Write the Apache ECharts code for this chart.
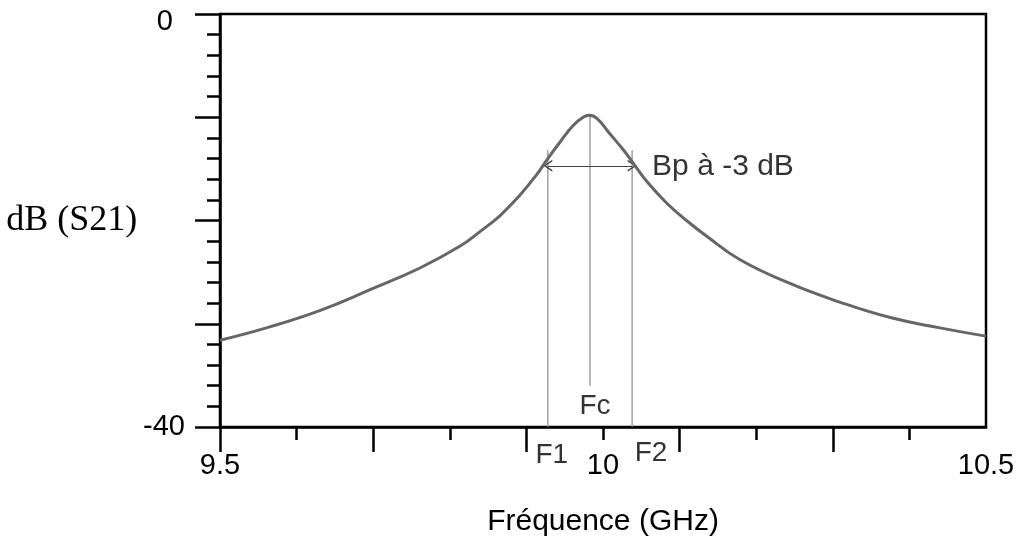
<!DOCTYPE html>
<html>
<head>
<meta charset="utf-8">
<script src="https://cdn.jsdelivr.net/npm/echarts@6/dist/echarts.min.js"></script>
<style>html,body{margin:0;padding:0;background:#fff}#c{width:1030px;height:540px}</style>
</head>
<body>
<div id="c"></div>
<script>
// ---- data ----
const freq = [9.5, 9.565, 9.631, 9.696, 9.761, 9.813, 9.839, 9.866, 9.892, 9.913, 9.927, 9.944, 9.961, 9.974, 9.982, 9.992, 10.009, 10.027, 10.038, 10.057, 10.083, 10.109, 10.135, 10.179, 10.244, 10.309, 10.375, 10.440, 10.5];
const s21  = [-31.6, -30.3, -28.7, -26.7, -24.6, -22.5, -21.1, -19.5, -17.5, -15.6, -14.1, -12.4, -10.8, -10.0, -9.8, -10.1, -11.6, -13.2, -14.3, -16.2, -18.3, -20.0, -21.5, -23.8, -26.1, -27.9, -29.4, -30.4, -31.2];
const F1 = 9.928, Fc = 9.983, F2 = 10.038;
const bandLevel = -14.7;     // level of the -3 dB arrow
const sideTop = -13.2;       // top of F1/F2 guide lines
const fcTop = -9.8, fcBottom = -36;
const xMin = 9.5, xMax = 10.5, yMin = -40, yMax = 0;
const xMajorTicks = [9.5, 9.7, 9.9, 10.1, 10.3];
const xMinorStep = 0.1, xMinorLast = 10.4;
const xTickLabels = [9.5, 10, 10.5];
const yTickLabels = [0, -40];
const labelF1 = 'F1', labelF2 = 'F2', labelFc = 'Fc', bandText = 'Bp à -3 dB';
const xName = 'Fréquence (GHz)', yName = 'dB (S21)';

// ---- layout ----
const W = 1030, L = 220, R = 44, T = 14, B = 113;
const plotW = W - L - R;
const span = xMax - xMin;
const minorRight = W - L - plotW * (xMinorLast - xMin) / span;
const majorSpan = xMajorTicks[xMajorTicks.length - 1] - xMajorTicks[0];
const majorStep = xMajorTicks[1] - xMajorTicks[0];
const majorRight = W - L - plotW * majorSpan / span;

const curve = freq.map((f, i) => [f, s21[i]]);
const sans = 'Liberation Sans, Arial, sans-serif';
const guide = {color: '#8a8a8a', width: 1.2};
const chevron = 'path://M0,10 L5,0 L10,10 L8.6,10 L5,2.8 L1.4,10 Z';
const tickStyle = {color: '#000', width: 2.5};
const isLabel = (arr, v) => arr.some(t => Math.abs(t - v) < 1e-6);
const gridBase = {top: T, bottom: B, left: L, containLabel: false, outerBoundsMode: 'none'};

const chart = echarts.init(document.getElementById('c'), null, {renderer: 'canvas'});
chart.setOption({
  animation: false,
  backgroundColor: '#fff',
  grid: [
    Object.assign({}, gridBase, {right: R, show: true, borderColor: '#000', borderWidth: 2.5, backgroundColor: 'transparent'}),
    Object.assign({}, gridBase, {right: minorRight, show: false}),
    Object.assign({}, gridBase, {right: majorRight, show: false})
  ],
  xAxis: [
    {
      type: 'value', gridIndex: 0, position: 'bottom', min: xMin, max: xMax, interval: xMinorStep,
      axisLine: {show: true, onZero: false, lineStyle: tickStyle},
      axisTick: {show: false},
      axisLabel: {margin: 24, color: '#000', fontFamily: sans, fontSize: 29,
        formatter: v => isLabel(xTickLabels, v) ? String(Math.round(v * 10) / 10) : ''},
      splitLine: {show: false},
      name: xName, nameLocation: 'middle', nameGap: 80,
      nameTextStyle: {color: '#000', fontFamily: sans, fontSize: 30}
    },
    {
      type: 'value', gridIndex: 1, position: 'bottom', min: xMin, max: xMinorLast, interval: xMinorStep,
      axisLine: {show: false, onZero: false},
      axisTick: {show: true, length: 13, lineStyle: tickStyle},
      axisLabel: {show: false}, splitLine: {show: false}
    },
    {
      type: 'value', gridIndex: 2, position: 'bottom', min: 0, max: majorSpan, interval: majorStep,
      axisLine: {show: false, onZero: false},
      axisTick: {show: true, length: 25, lineStyle: tickStyle},
      axisLabel: {show: false}, splitLine: {show: false}
    }
  ],
  yAxis: [
    {
      type: 'value', gridIndex: 0, min: yMin, max: yMax, interval: 10,
      axisLine: {show: true, onZero: false, lineStyle: tickStyle},
      axisTick: {show: true, length: 25, lineStyle: tickStyle},
      minorTick: {show: true, splitNumber: 5, length: 13, lineStyle: tickStyle},
      axisLabel: {margin: 35, color: '#000', fontFamily: sans, fontSize: 29,
        formatter: v => !isLabel(yTickLabels, v) ? '' : (v === 0 ? '{z|0}' : String(v)),
        rich: {z: {fontFamily: sans, fontSize: 29, color: '#000', padding: [16, 12, 0, 0]}}},
      splitLine: {show: false},
      name: yName, nameLocation: 'middle', nameRotate: 0, nameGap: 73,
      nameTextStyle: {color: '#000', fontFamily: 'Liberation Serif, Times New Roman, serif', fontSize: 36}
    },
    {type: 'value', gridIndex: 1, min: yMin, max: yMax, show: false},
    {type: 'value', gridIndex: 2, min: yMin, max: yMax, show: false}
  ],
  series: [
    {
      type: 'line', xAxisIndex: 0, yAxisIndex: 0, data: [[F1, sideTop], [F1, yMin]],
      symbol: 'none', lineStyle: guide, silent: true
    },
    {
      type: 'line', xAxisIndex: 0, yAxisIndex: 0, data: [[F2, sideTop], [F2, yMin]],
      symbol: 'none', lineStyle: guide, silent: true
    },
    {
      type: 'line', xAxisIndex: 0, yAxisIndex: 0, data: [[Fc, fcTop], [Fc, fcBottom]],
      symbol: 'none', lineStyle: guide, silent: true,
      markLine: {
        silent: true, symbol: [chevron, chevron], symbolSize: [12, 9],
        lineStyle: {color: '#444', width: 1.2, type: 'solid'},
        itemStyle: {color: '#222'},
        label: {show: false},
        data: [[{coord: [F1, bandLevel]}, {coord: [F2, bandLevel]}]]
      }
    },
    {
      type: 'line', xAxisIndex: 0, yAxisIndex: 0, data: curve, smooth: 0.45,
      symbol: 'none', lineStyle: {color: '#666', width: 3}, z: 5
    },
    {
      type: 'scatter', xAxisIndex: 0, yAxisIndex: 0, symbolSize: 0, silent: true,
      data: [
        {value: [F1, yMin], label: {formatter: labelF1, position: 'bottom', distance: 14, offset: [4, 0]}},
        {value: [F2, yMin], label: {formatter: labelF2, position: 'bottom', distance: 12, offset: [19, 0]}},
        {value: [Fc, fcBottom], label: {formatter: labelFc, position: 'bottom', distance: 7, offset: [5, 0]}},
        {value: [F2, bandLevel], label: {formatter: bandText, position: 'right', distance: 20, offset: [0, 1], fontSize: 30}}
      ],
      label: {show: true, color: '#000', fontFamily: sans, fontSize: 28}
    }
  ]
});
</script>
</body>
</html>
